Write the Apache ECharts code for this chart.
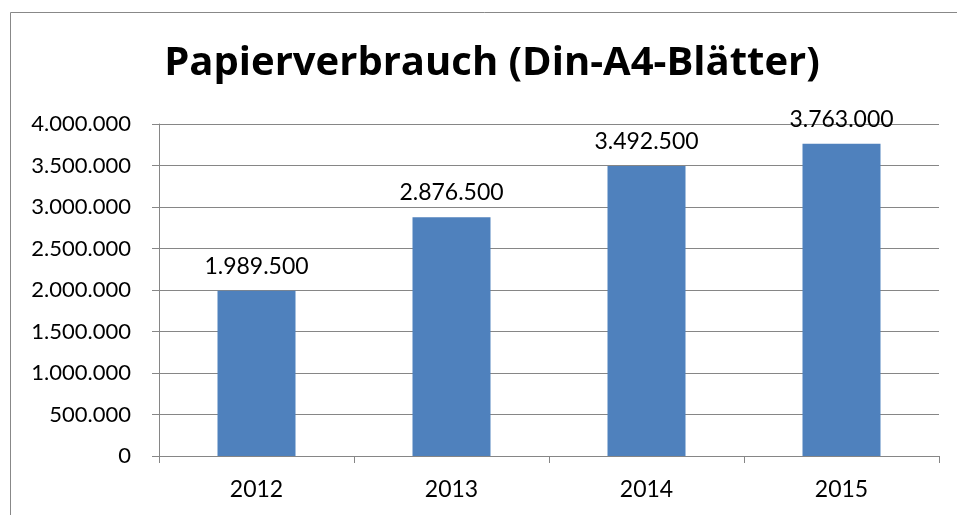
<!DOCTYPE html>
<html>
<head>
<meta charset="utf-8">
<script src="https://cdn.jsdelivr.net/npm/echarts@6/dist/echarts.min.js"></script>
<style>
  html, body { margin: 0; padding: 0; background: #fff; }
  #chart { width: 957px; height: 515px; }
</style>
</head>
<body>
<div id="chart"></div>
<script>
var years = ['2012', '2013', '2014', '2015'];
var sheets = [1989500, 2876500, 3492500, 3763000];

function fmt(v) {
    return String(v).replace(/\B(?=(\d{3})+(?!\d))/g, '.');
}

var chart = echarts.init(document.getElementById('chart'));

chart.setOption({
    animation: false,
    textStyle: { fontFamily: 'Lato' },
    graphic: [{
        type: 'rect',
        shape: { x: 10.5, y: 12.5, width: 1000, height: 600 },
        style: { fill: 'none', stroke: '#888', lineWidth: 1 }
    }],
    title: {
        text: 'Papierverbrauch (Din-A4-Blätter)',
        left: 487,
        textAlign: 'center',
        top: 39,
        textStyle: { fontFamily: 'Open Sans', fontSize: 40, fontWeight: 'bold', color: '#000' }
    },
    grid: { left: 159, right: 18, top: 124, bottom: 59 },
    xAxis: {
        type: 'category',
        data: years,
        axisLine: { lineStyle: { color: '#868686' } },
        axisTick: { show: true, length: 7, lineStyle: { color: '#868686' } },
        axisLabel: { color: '#000', fontSize: 23, margin: 22 }
    },
    yAxis: {
        type: 'value',
        min: 0,
        max: 4000000,
        interval: 500000,
        axisLine: { show: true, lineStyle: { color: '#868686' } },
        axisTick: { show: true, length: 7, lineStyle: { color: '#868686' } },
        splitLine: { lineStyle: { color: '#868686' } },
        axisLabel: { color: '#000', fontSize: 22, margin: 28, formatter: fmt }
    },
    series: [{
        type: 'bar',
        data: sheets,
        barWidth: '40%',
        itemStyle: { color: '#4F81BD' },
        label: {
            show: true,
            position: 'top',
            distance: 13,
            color: '#000',
            fontSize: 23,
            formatter: function(p) { return fmt(p.value); }
        }
    }]
});
</script>
</body>
</html>
